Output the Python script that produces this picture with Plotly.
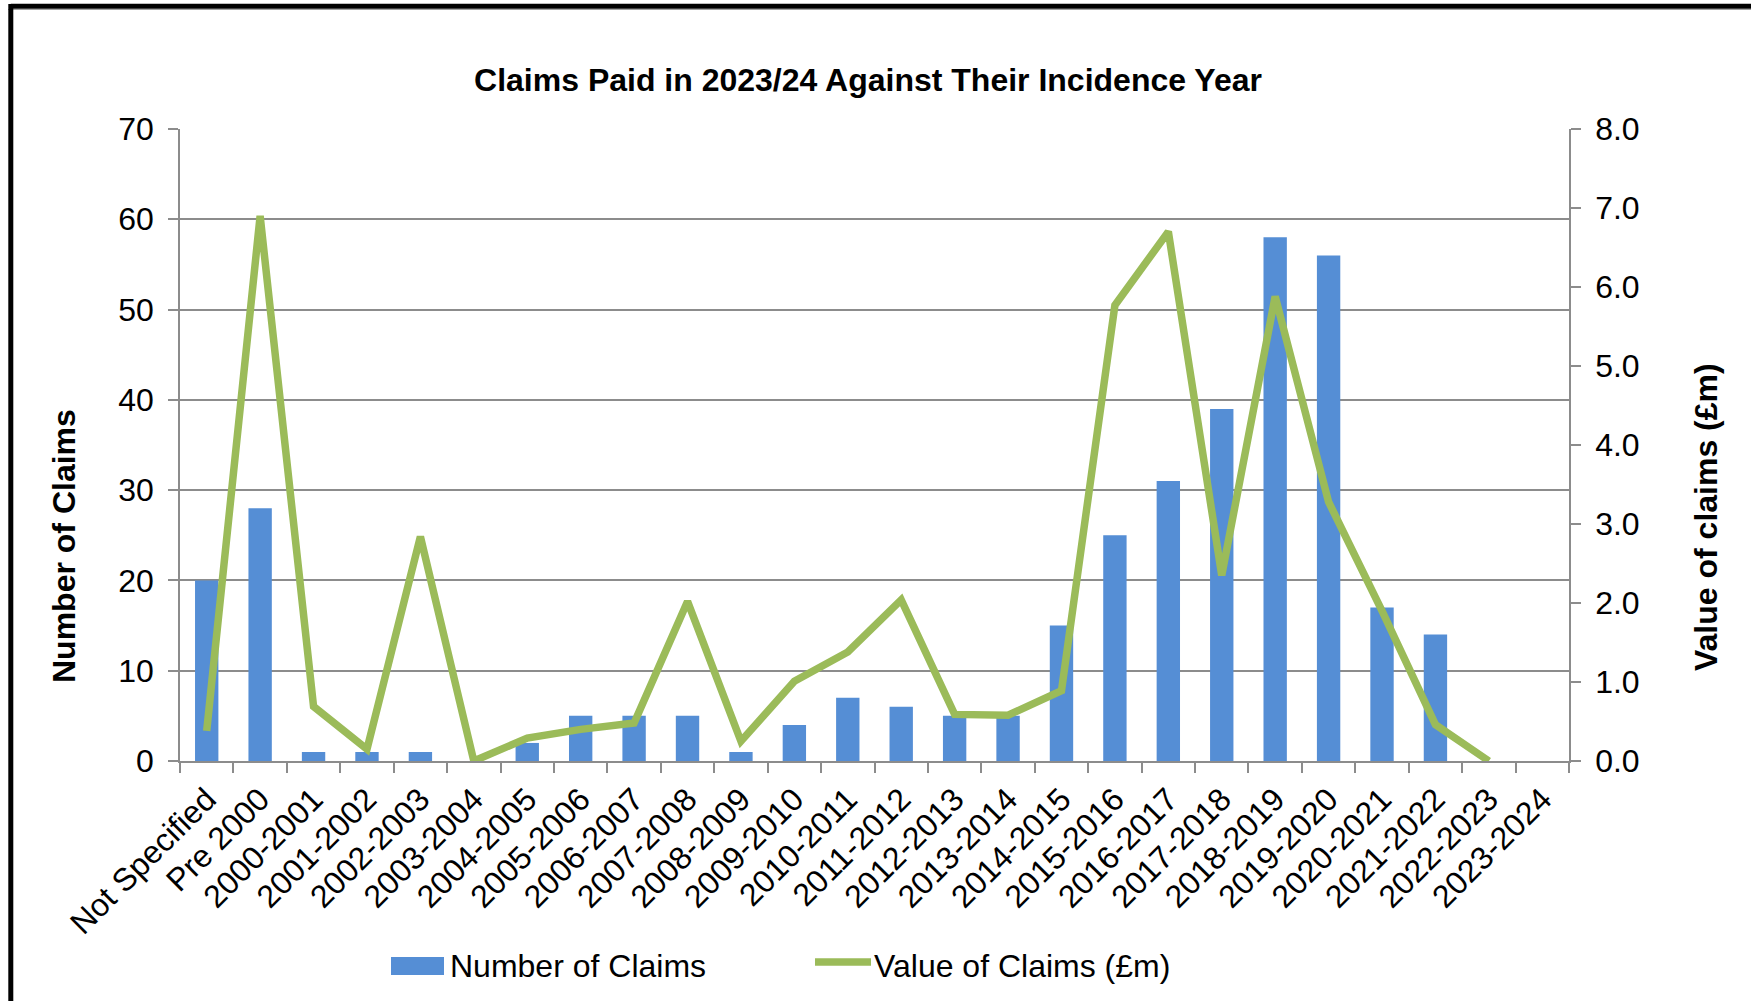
import plotly.graph_objects as go

# ---- data ----
categories = [
    "Not Specified", "Pre 2000", "2000-2001", "2001-2002", "2002-2003",
    "2003-2004", "2004-2005", "2005-2006", "2006-2007", "2007-2008",
    "2008-2009", "2009-2010", "2010-2011", "2011-2012", "2012-2013",
    "2013-2014", "2014-2015", "2015-2016", "2016-2017", "2017-2018",
    "2018-2019", "2019-2020", "2020-2021", "2021-2022", "2022-2023",
    "2023-2024",
]
number_of_claims = [20, 28, 1, 1, 1, 0, 2, 5, 5, 5, 1, 4, 7, 6, 5, 5,
                    15, 25, 31, 39, 58, 56, 17, 14, 0, 0]
value_of_claims_m = [0.38, 6.90, 0.69, 0.15, 2.84, 0.0, 0.29, 0.40, 0.48,
                     2.02, 0.25, 1.01, 1.38, 2.04, 0.59, 0.58, 0.89, 5.77,
                     6.70, 2.35, 5.88, 3.28, 1.90, 0.46, 0.0, None]

# ---- styling ----
W, H = 1751, 1001
PL, PR, PT, PB = 180, 1569, 129, 761          # plot area in pixels
FONT = "Liberation Sans, Arial, sans-serif"
FS = 32
BLUE = "#558ED5"
GREEN = "#9BBB59"
GRID = "#8C8C8C"


def px_x(x):
    return (x - PL) / (PR - PL)


def px_y(y):
    return (PB - y) / (PB - PT)


fig = go.Figure()
fig.add_trace(go.Bar(
    x=categories, y=number_of_claims, name="Number of Claims",
    marker=dict(color=BLUE, line=dict(width=0)), yaxis="y",
    showlegend=False,
))
fig.add_trace(go.Scatter(
    x=categories, y=value_of_claims_m, name="Value of Claims (£m)",
    mode="lines", line=dict(color=GREEN, width=7.5), yaxis="y2",
    connectgaps=False, showlegend=False,
))

axis_common = dict(
    showline=True, linecolor=GRID, linewidth=1.5,
    ticks="outside", ticklen=10, tickwidth=1.5, tickcolor=GRID,
    tickfont=dict(family=FONT, size=FS, color="#000000"),
)

fig.update_layout(
    width=W, height=H,
    margin=dict(l=PL, r=W - PR, t=PT, b=H - PB, autoexpand=False),
    paper_bgcolor="white", plot_bgcolor="white",
    bargap=0.5625,
    title=dict(
        text="<b>Claims Paid in 2023/24 Against Their Incidence Year</b>",
        font=dict(family=FONT, size=FS, color="#000000"),
        x=px_x(868), xref="paper", xanchor="center",
        y=1 - 80 / H, yref="container", yanchor="middle",
    ),
    xaxis=dict(
        type="category", tickangle=-45, tickson="boundaries",
        showgrid=False, ticklabelstandoff=5, **axis_common,
    ),
    yaxis=dict(
        range=[0, 70], dtick=10, showgrid=True, gridcolor=GRID,
        gridwidth=1.5, zeroline=False, ticklabelstandoff=8,
        **axis_common,
    ),
    yaxis2=dict(
        range=[0, 8], dtick=1, tickformat=".1f", overlaying="y",
        side="right", showgrid=False, zeroline=False,
        ticklabelstandoff=8, **axis_common,
    ),
)

# axis titles
fig.add_annotation(
    text="<b>Number of Claims</b>", textangle=-90,
    x=px_x(64), y=px_y(546), xref="paper", yref="paper",
    xanchor="center", yanchor="middle",
    showarrow=False, font=dict(family=FONT, size=FS, color="#000000"),
)
fig.add_annotation(
    text="<b>Value of claims (£m)</b>", textangle=-90,
    x=px_x(1706), y=px_y(517), xref="paper", yref="paper",
    xanchor="center", yanchor="middle",
    showarrow=False, font=dict(family=FONT, size=FS, color="#000000"),
)

# legend keys
fig.add_shape(type="rect", xref="paper", yref="paper",
              x0=px_x(391), x1=px_x(444), y0=px_y(975), y1=px_y(957),
              fillcolor=BLUE, line=dict(width=0))
fig.add_annotation(
    text="Number of Claims", x=px_x(448), y=px_y(966),
    xref="paper", yref="paper", xanchor="left", yanchor="middle",
    showarrow=False, font=dict(family=FONT, size=FS, color="#000000"),
)
fig.add_shape(type="line", xref="paper", yref="paper",
              x0=px_x(815), x1=px_x(871), y0=px_y(962), y1=px_y(962),
              line=dict(color=GREEN, width=7.5))
fig.add_annotation(
    text="Value of Claims (£m)", x=px_x(872), y=px_y(966),
    xref="paper", yref="paper", xanchor="left", yanchor="middle",
    showarrow=False, font=dict(family=FONT, size=FS, color="#000000"),
)

# outer frame (top and left edges)
fig.add_shape(type="line", xref="paper", yref="paper",
              x0=px_x(8), x1=px_x(W + 10), y0=px_y(9.5), y1=px_y(9.5),
              line=dict(color="#A0A0A0", width=1))
fig.add_shape(type="line", xref="paper", yref="paper",
              x0=px_x(10.8), x1=px_x(W + 10), y0=px_y(6.3), y1=px_y(6.3),
              line=dict(color="#000000", width=5))
fig.add_shape(type="line", xref="paper", yref="paper",
              x0=px_x(10.8), x1=px_x(10.8), y0=px_y(4), y1=px_y(H + 10),
              line=dict(color="#000000", width=5))

fig.write_html("out.html")
